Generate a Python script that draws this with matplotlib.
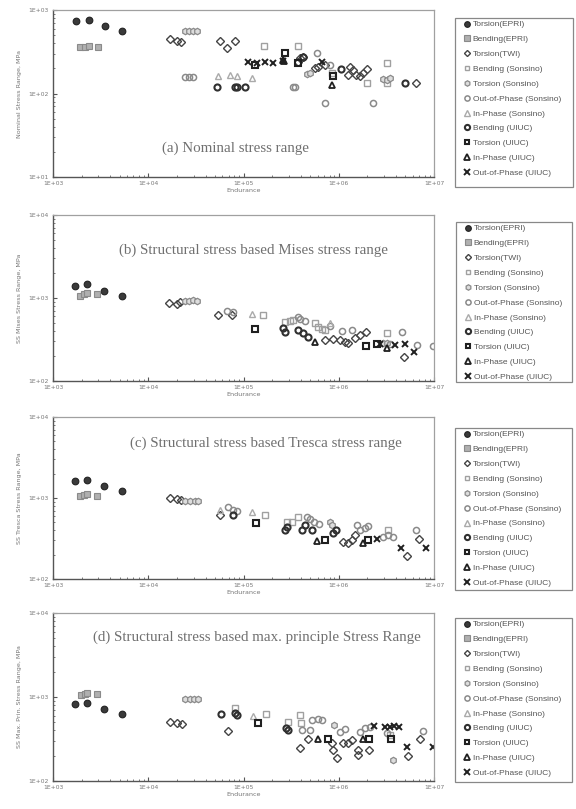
import numpy as np
import matplotlib
matplotlib.use('Agg')
import matplotlib.pyplot as plt
from matplotlib.ticker import LogLocator, FuncFormatter, NullFormatter
from matplotlib.patches import Rectangle

# ---------------- data (Endurance N, stress range MPa) ----------------
SERIES = ["Torsion(EPRI)", "Bending(EPRI)", "Torsion(TWI)", "Bending (Sonsino)",
          "Torsion (Sonsino)", "Out-of-Phase (Sonsino)", "In-Phase (Sonsino)",
          "Bending (UIUC)", "Torsion (UIUC)", "In-Phase (UIUC)", "Out-of-Phase (UIUC)"]

# (a) nominal
a_tor_epri = [(1740, 738), (2390, 759), (3520, 643), (5300, 561)]
a_ben_epri = [(1920, 361), (2170, 365), (2390, 368), (2970, 363)]
a_tor_twi = [(16900, 450), (20000, 426), (22100, 414), (56600, 426), (67100, 351), (81400, 426),
             (373000, 240), (392000, 263), (421000, 270), (563000, 200), (611000, 207), (718000, 219),
             (1.25e6, 167), (1.31e6, 207), (1.41e6, 191), (1.53e6, 167), (1.67e6, 162), (1.80e6, 178),
             (1.98e6, 196), (6.55e6, 134)]
a_ben_son = [(164000, 371), (373000, 371), (849000, 176), (1.98e6, 134), (3.21e6, 232), (3.21e6, 134)]
a_tor_son = [(24300, 565), (26800, 568), (29500, 565), (32500, 562), (464000, 171), (499000, 176),
             (2.92e6, 149), (3.21e6, 145), (3.45e6, 153)]
a_oop_son = [(24300, 158), (26800, 158), (29500, 158), (331000, 120), (345000, 120), (591000, 306),
             (718000, 77), (810000, 219), (2.29e6, 77)]
a_ip_son = [(54000, 162), (72100, 167), (85500, 162), (123000, 153)]
a_ben_uiuc = [(52700, 120), (81400, 120), (85500, 120), (104000, 120), (421000, 274), (1.06e6, 196),
              (4.97e6, 134)]
a_tor_uiuc = [(132000, 219), (273000, 306), (373000, 232), (873000, 162)]
a_ip_uiuc = [(260000, 252), (268000, 245), (849000, 126)]
a_oop_uiuc = [(111000, 238), (139000, 232), (168000, 238), (204000, 232), (260000, 243), (667000, 238)]

# (b) Mises
b_tor_epri = [(1700, 1406), (2300, 1462), (3400, 1225), (5300, 1067)]
b_ben_epri = [(1920, 1067), (2120, 1109), (2280, 1140), (2900, 1109)]
b_tor_twi = [(16700, 877), (19900, 839), (21600, 886), (54300, 624), (75000, 624), (718000, 312),
             (875000, 325), (1.03e6, 312), (1.16e6, 297), (1.25e6, 284), (1.48e6, 330), (1.67e6, 358),
             (1.93e6, 389), (4.85e6, 196)]
b_ben_son = [(162000, 624), (273000, 518), (307000, 528), (331000, 543), (563000, 500), (611000, 452),
             (660000, 422), (718000, 411), (3.21e6, 382)]
b_tor_son = [(24300, 927), (27000, 927), (29700, 946), (32700, 927), (2.94e6, 285), (3.21e6, 290)]
b_oop_son = [(66400, 697), (78000, 684), (370000, 585), (392000, 558), (442000, 528), (810000, 464),
             (1.07e6, 400), (1.38e6, 411), (3.45e6, 279), (4.58e6, 392), (6.6e6, 272), (9.7e6, 264)]
b_ip_son = [(122000, 637), (810000, 500)]
b_ben_uiuc = [(262000, 431), (273000, 393), (375000, 411), (426000, 376), (470000, 340)]
b_tor_uiuc = [(132000, 420), (1.93e6, 267), (2.5e6, 277)]
b_ip_uiuc = [(563000, 297), (3.21e6, 248)]
b_oop_uiuc = [(2.71e6, 277), (3.90e6, 272), (4.97e6, 279), (6.1e6, 225)]

# (c) Tresca
c_tor_epri = [(1700, 1622), (2300, 1667), (3400, 1406), (5300, 1230)]
c_ben_epri = [(1920, 1067), (2120, 1089), (2280, 1111), (2900, 1067)]
c_tor_twi = [(16900, 990), (19900, 964), (22300, 945), (56600, 617), (1.12e6, 289), (1.25e6, 281),
             (1.37e6, 303), (1.48e6, 349), (5.2e6, 192), (7.0e6, 310)]
c_ben_son = [(168000, 617), (285000, 509), (320000, 509), (376000, 587), (3.3e6, 403)]
c_tor_son = [(24300, 918), (27500, 918), (30600, 918), (33500, 918), (810000, 509), (850000, 464)]
c_oop_son = [(69000, 781), (78000, 711), (86000, 692), (464000, 578), (499000, 546), (550000, 509),
             (620000, 477), (1.55e6, 464), (1.67e6, 403), (1.87e6, 423), (2.03e6, 451), (2.92e6, 333),
             (3.3e6, 349), (3.72e6, 327), (6.5e6, 403)]
c_ip_son = [(56600, 711), (122000, 678)]
c_ben_uiuc = [(78000, 617), (273000, 403), (285000, 443), (410000, 403), (442000, 464), (520000, 403),
              (875000, 367), (940000, 403)]
c_tor_uiuc = [(135000, 488), (718000, 303), (2.03e6, 303)]
c_ip_uiuc = [(590000, 297), (1.78e6, 275)]
c_oop_uiuc = [(2.5e6, 309), (4.5e6, 239), (8.2e6, 239)]

# (d) max principal
d_tor_epri = [(1700, 818), (2300, 841), (3400, 715), (5300, 628)]
d_ben_epri = [(1950, 1070), (2150, 1100), (2300, 1120), (2900, 1090)]
d_tor_twi = [(16900, 508), (20000, 486), (22400, 478), (69000, 397), (392000, 245), (478000, 313),
             (849000, 281), (875000, 234), (950000, 186), (1.12e6, 286), (1.25e6, 286), (1.38e6, 306),
             (1.58e6, 234), (1.58e6, 205), (2.08e6, 234), (5.3e6, 200), (7.1e6, 313)]
d_ben_son = [(81400, 733), (172000, 621), (293000, 508), (392000, 612), (400000, 496), (3.45e6, 353)]
d_tor_son = [(24300, 940), (27500, 945), (30500, 950), (33500, 940), (891000, 464), (3.75e6, 178)]
d_oop_son = [(410000, 405), (499000, 405), (520000, 532), (611000, 541), (660000, 532), (1.03e6, 386),
             (1.16e6, 412), (1.67e6, 386), (1.87e6, 423), (2.13e6, 440), (3.2e6, 372), (7.7e6, 397)]
d_ip_son = [(126000, 594)]
d_ben_uiuc = [(57500, 628), (81400, 640), (86000, 612), (280000, 424), (293000, 405)]
d_tor_uiuc = [(141000, 486), (780000, 313), (2.08e6, 313), (3.5e6, 313)]
d_ip_uiuc = [(611000, 313), (1.78e6, 313)]
d_oop_uiuc = [(2.35e6, 450), (3.06e6, 443), (3.45e6, 435), (3.8e6, 450), (4.3e6, 443), (5.2e6, 256),
              (9.7e6, 252)]

TITLES = ["(a) Nominal stress range",
          "(b) Structural stress based Mises stress range",
          "(c) Structural stress based Tresca stress range",
          "(d) Structural stress based max. principle Stress Range"]
YLABELS = ["Nominal Stress Range, MPa", "SS Mises Stress Range, MPa",
           "SS Tresca Stress Range, MPa", "SS Max. Prin. Stress Range, MPa"]
XLABEL = "Endurance"
YLIMS = [(10, 1000), (100, 10000), (100, 10000), (100, 10000)]
XLIM = (1e3, 1e7)

PANEL_DATA = [
    [a_tor_epri, a_ben_epri, a_tor_twi, a_ben_son, a_tor_son, a_oop_son, a_ip_son, a_ben_uiuc, a_tor_uiuc, a_ip_uiuc, a_oop_uiuc],
    [b_tor_epri, b_ben_epri, b_tor_twi, b_ben_son, b_tor_son, b_oop_son, b_ip_son, b_ben_uiuc, b_tor_uiuc, b_ip_uiuc, b_oop_uiuc],
    [c_tor_epri, c_ben_epri, c_tor_twi, c_ben_son, c_tor_son, c_oop_son, c_ip_son, c_ben_uiuc, c_tor_uiuc, c_ip_uiuc, c_oop_uiuc],
    [d_tor_epri, d_ben_epri, d_tor_twi, d_ben_son, d_tor_son, d_oop_son, d_ip_son, d_ben_uiuc, d_tor_uiuc, d_ip_uiuc, d_oop_uiuc],
]

# ---------------- styles ----------------
STYLES = [
    dict(marker='o', ms=4.8, mfc='#3a3a3a', mec='#222222', mew=0.8),     # Torsion(EPRI)
    dict(marker='s', ms=4.4, mfc='#b0b0b0', mec='#8a8a8a', mew=0.8),     # Bending(EPRI)
    dict(marker='D', ms=3.6, mfc='none', mec='#444444', mew=1.0),        # Torsion(TWI)
    dict(marker='s', ms=4.2, mfc='none', mec='#a0a0a0', mew=1.0),        # Bending (Sonsino)
    dict(marker='h', ms=4.6, mfc='#dddddd', mec='#8a8a8a', mew=0.9),     # Torsion (Sonsino)
    dict(marker='o', ms=4.4, mfc='none', mec='#8a8a8a', mew=1.1),        # Out-of-Phase (Sonsino)
    dict(marker='^', ms=4.4, mfc='none', mec='#aaaaaa', mew=1.0),        # In-Phase (Sonsino)
    dict(marker='o', ms=4.4, mfc='none', mec='#303030', mew=1.5),        # Bending (UIUC)
    dict(marker='s', ms=4.2, mfc='none', mec='#202020', mew=1.5),        # Torsion (UIUC)
    dict(marker='^', ms=4.4, mfc='none', mec='#202020', mew=1.3),        # In-Phase (UIUC)
    dict(marker='x', ms=4.4, mfc='none', mec='#202020', mew=1.4),        # Out-of-Phase (UIUC)
]

W, H = 576, 809
fig = plt.figure(figsize=(W / 100, H / 100), dpi=100)
fig.patch.set_facecolor('white')

# axes boxes in pixels: (left, top, right, bottom)
AX_PX = [(53, 10, 434, 177), (53, 215, 434, 381), (53, 417, 434, 579), (53, 613, 434, 781)]
LEG_PX = [(455, 18, 573, 187), (456, 222, 572, 382), (455, 428, 572, 590), (455, 618, 572, 782)]
TITLE_POS = [(0.478, 0.174), (0.525, 0.789), (0.559, 0.84), (0.535, 0.857)]


def fmt(v, pos):
    e = int(round(np.log10(v)))
    return "1E+%02d" % e


for i in range(4):
    l, t, r, b = AX_PX[i]
    ax = fig.add_axes([l / W, 1 - b / H, (r - l) / W, (b - t) / H])
    ax.set_xscale('log')
    ax.set_yscale('log')
    ax.set_xlim(*XLIM)
    ax.set_ylim(*YLIMS[i])
    handles = []
    for pts, st, name in zip(PANEL_DATA[i], STYLES, SERIES):
        xs = [p[0] for p in pts]
        ys = [p[1] for p in pts]
        if st['marker'] == 'x':
            h, = ax.plot(xs, ys, linestyle='none', marker='x', ms=st['ms'], mec=st['mec'],
                         mew=st['mew'], label=name)
        else:
            h, = ax.plot(xs, ys, linestyle='none', label=name, **st)
        handles.append(h)

    ax.xaxis.set_major_locator(LogLocator(base=10, numticks=10))
    ax.yaxis.set_major_locator(LogLocator(base=10, numticks=10))
    ax.xaxis.set_minor_locator(LogLocator(base=10, subs=np.arange(2, 10), numticks=10))
    ax.yaxis.set_minor_locator(LogLocator(base=10, subs=np.arange(2, 10), numticks=10))
    ax.xaxis.set_major_formatter(FuncFormatter(fmt))
    ax.yaxis.set_major_formatter(FuncFormatter(fmt))
    ax.xaxis.set_minor_formatter(NullFormatter())
    ax.yaxis.set_minor_formatter(NullFormatter())
    ax.tick_params(which='major', direction='in', length=3, width=0.8, color='#555555',
                   labelsize=4.3, labelcolor='#777777', pad=3, top=False, right=False)
    ax.tick_params(which='minor', direction='in', length=1.6, width=0.6, color='#666666',
                   top=False, right=False)
    for s in ['left', 'bottom']:
        ax.spines[s].set_color('#555555')
        ax.spines[s].set_linewidth(1.0)
    for s in ['top', 'right']:
        ax.spines[s].set_color('#a0a0a0')
        ax.spines[s].set_linewidth(0.9)

    ax.set_xlabel(XLABEL, fontsize=4.6, color='#777777', labelpad=1.5)
    ax.set_ylabel(YLABELS[i], fontsize=4.6, color='#777777', labelpad=5)
    tx, ty = TITLE_POS[i]
    ax.text(tx, ty, TITLES[i], transform=ax.transAxes, ha='center', va='center',
            fontsize=10.8, color='#707070', family='Liberation Serif')

    # legend box
    ll, lt, lr, lb = LEG_PX[i]
    fig.patches.append(Rectangle((ll / W, 1 - lb / H), (lr - ll) / W, (lb - lt) / H,
                                 transform=fig.transFigure, fill=False, edgecolor='#888888',
                                 linewidth=0.9))
    leg = fig.legend(handles=handles, loc='upper left',
                     bbox_to_anchor=((ll + 8) / W, 1 - (lt + 1) / H),
                     bbox_transform=fig.transFigure, frameon=False,
                     prop={'family': 'Liberation Sans', 'size': 6.0},
                     labelspacing=0.84, handlelength=0.55, handletextpad=0.4,
                     borderpad=0.2, borderaxespad=0, markerscale=0.85)
    for txt in leg.get_texts():
        txt.set_color('#555555')

fig.savefig('out.png', dpi=100, facecolor='white')
